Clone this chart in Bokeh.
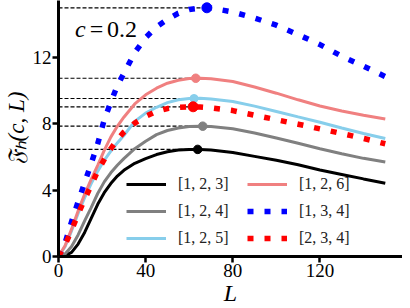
from bokeh.plotting import figure
from bokeh.models import Legend, LegendItem, Label, Range1d, FixedTicker
from bokeh.embed import file_html
from bokeh.resources import INLINE

# ---- data ----
L = [0, 3, 6, 9, 12, 15, 18, 21, 24, 27, 30, 35, 40, 45, 50, 55, 60, 65, 70,
     80, 90, 100, 110, 120, 130, 140, 150]

f_123 = [0, 0.05, 0.25, 0.75, 1.45, 2.3, 3.15, 3.85, 4.4, 4.85, 5.2, 5.62, 5.9,
         6.15, 6.32, 6.42, 6.46, 6.46, 6.42, 6.27, 6.04, 5.8, 5.53, 5.22, 4.95,
         4.68, 4.42]
f_124 = [0, 0.15, 0.6, 1.3, 2.15, 2.95, 3.8, 4.5, 5.05, 5.5, 5.9, 6.5, 6.95,
         7.35, 7.6, 7.75, 7.84, 7.86, 7.84, 7.7, 7.45, 7.15, 6.83, 6.5, 6.2,
         5.92, 5.7]
f_125 = [0, 0.6, 1.55, 2.6, 3.55, 4.4, 5.15, 5.8, 6.35, 6.85, 7.3, 8.15, 8.65,
         9.0, 9.28, 9.45, 9.53, 9.54, 9.5, 9.35, 9.07, 8.75, 8.42, 8.1, 7.75,
         7.42, 7.12]
f_126 = [0, 0.65, 1.65, 2.75, 3.75, 4.65, 5.5, 6.4, 7.2, 7.85, 8.4, 9.2, 9.75,
         10.15, 10.45, 10.63, 10.73, 10.75, 10.72, 10.55, 10.22, 9.85, 9.45,
         9.08, 8.78, 8.52, 8.29]
f_134 = [0, 0.8, 2.1, 3.3, 4.45, 5.6, 6.8, 8.25, 9.3, 10.3, 11.05, 12.3, 13.2,
         13.85, 14.3, 14.67, 14.9, 14.99, 14.98, 14.75, 14.38, 13.95, 13.38,
         12.78, 12.08, 11.48, 10.85]
f_234 = [0, 0.7, 1.6, 2.55, 3.45, 4.3, 5.15, 5.85, 6.5, 7.05, 7.5, 8.05, 8.45,
         8.75, 8.92, 9.0, 9.03, 9.02, 8.97, 8.8, 8.52, 8.25, 7.98, 7.7, 7.42,
         7.12, 6.8]

labels = ["[1, 2, 3]", "[1, 2, 4]", "[1, 2, 5]", "[1, 2, 6]", "[1, 3, 4]", "[2, 3, 4]"]
series = [f_123, f_124, f_125, f_126, f_134, f_234]

peak_L = [63.9, 66.2, 62.2, 63.0, 68.1, 61.8]
peak_F = [6.46, 7.86, 9.53, 10.75, 15.0, 9.03]

x_ticks = [0, 40, 80, 120]
y_ticks = [0, 4, 8, 12]
c_value = "0.2"

# ---- styles ----
colors = ["black", "gray", "skyblue", "lightcoral", "blue", "red"]
dotted = [False, False, False, False, True, True]
marker_sizes = [8.5, 8.5, 8, 8.5, 10, 10]

FONT = "Liberation Serif"

p = figure(width=402, height=308, output_backend="svg", toolbar_location=None,
           x_range=Range1d(0, 157.9), y_range=Range1d(0, 15.44),
           min_border_left=52, min_border_right=0, min_border_top=0,
           min_border_bottom=52)
p.outline_line_color = None
p.grid.visible = False
p.background_fill_color = "white"

# reference dashed lines to each maximum
p.segment(x0=[0] * len(peak_L), y0=peak_F, x1=peak_L, y1=peak_F,
          line_color="black", line_width=1.2, line_dash="4 2")

renderers = []
for s, c, d in zip(series, colors, dotted):
    if d:
        r = p.line(L, s, line_color=c, line_width=5.5, line_dash="6 11",
                   line_cap="butt")
    else:
        r = p.line(L, s, line_color=c, line_width=3)
    renderers.append(r)

for xl, yf, c, ms in zip(peak_L, peak_F, colors, marker_sizes):
    p.scatter([xl], [yf], size=ms, fill_color=c, line_color=c, marker="circle")

# axes
for ax in (p.xaxis[0], p.yaxis[0]):
    ax.axis_line_width = 3
    ax.major_tick_line_width = 2.5
    ax.major_tick_out = 6
    ax.major_tick_in = 0
    ax.minor_tick_out = 0
    ax.minor_tick_in = 0
    ax.major_label_text_font = FONT
    ax.major_label_text_font_size = "19px"
    ax.major_label_text_color = "black"
    ax.axis_label_text_font = FONT
    ax.axis_label_text_font_style = "italic"
    ax.axis_label_text_color = "black"

p.xaxis.ticker = FixedTicker(ticks=x_ticks)
p.yaxis.ticker = FixedTicker(ticks=y_ticks)
p.xaxis.axis_label = "L"
p.xaxis.axis_label_text_font_size = "24px"
p.xaxis.major_label_standoff = 1
p.xaxis.axis_label_standoff = 0
p.yaxis.axis_label = "𝔉ₕ(c, L)"
p.yaxis.axis_label_text_font_size = "23px"
p.yaxis.major_label_standoff = 1
p.yaxis.axis_label_standoff = 1

# legend in two columns
def make_legend(idx, loc):
    leg = Legend(items=[LegendItem(label=labels[i], renderers=[renderers[i]]) for i in idx],
                 location=loc, orientation="vertical",
                 glyph_width=40, glyph_height=20, label_standoff=12, spacing=7,
                 padding=0, margin=0, border_line_color=None,
                 background_fill_alpha=0, label_text_font=FONT,
                 label_text_font_size="16px", label_text_color="#222222")
    p.add_layout(leg)

make_legend([0, 1, 2], (68, 8))
make_legend([3, 4, 5], (189, 8))

# annotation "c = 0.2"
for xt, txt, style in [(7.6, "c", "italic"), (14.4, "=", "normal"), (22.3, c_value, "normal")]:
    p.add_layout(Label(x=xt, y=13.7, text=txt, text_font=FONT, text_font_style=style,
                       text_font_size="24px", text_baseline="middle", text_color="black"))

open("out.html", "w").write(file_html(p, INLINE))
